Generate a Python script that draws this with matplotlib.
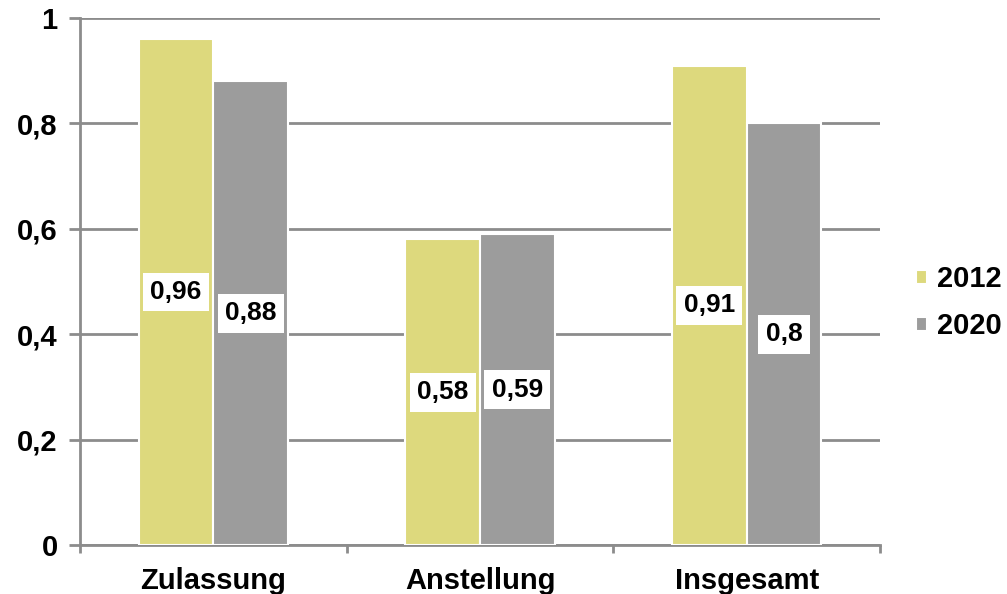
# Recreate grouped bar chart comparing 2012 and 2020.
import numpy as np
import matplotlib
matplotlib.use("Agg")
import matplotlib.pyplot as plt
from matplotlib.ticker import FixedLocator

plt.rcParams["font.family"] = ["Liberation Sans", "DejaVu Sans"]
plt.rcParams["font.weight"] = "bold"

# Data
categories = ["Zulassung", "Anstellung", "Insgesamt"]
series_names = ["2012", "2020"]
values_2012 = [0.96, 0.58, 0.91]
values_2020 = [0.88, 0.59, 0.8]
label_2012 = ["0,96", "0,58", "0,91"]
label_2020 = ["0,88", "0,59", "0,8"]
ytick_values = [0, 0.2, 0.4, 0.6, 0.8, 1.0]
ytick_labels = ["0", "0,2", "0,4", "0,6", "0,8", "1"]

color_2012 = "#DDD97D"
color_2020 = "#9C9C9C"
grid_color = "#8C8C8C"

fig = plt.figure(figsize=(10.07, 5.94), dpi=100)
ax = fig.add_axes([0.0794, 0.0825, 0.7946, 0.887])

x = np.arange(len(categories))
width = 0.28

bars_a = ax.bar(x - width / 2, values_2012, width, color=color_2012,
                edgecolor="white", linewidth=1.5, label=series_names[0], zorder=3)
bars_b = ax.bar(x + width / 2, values_2020, width, color=color_2020,
                edgecolor="white", linewidth=1.5, label=series_names[1], zorder=3)

# Value labels in white boxes at bar centers
for bars, labels in [(bars_a, label_2012), (bars_b, label_2020)]:
    for b, lab in zip(bars, labels):
        ax.text(b.get_x() + b.get_width() / 2, b.get_height() / 2, lab,
                ha="center", va="center", fontsize=19, fontweight="bold",
                color="black", zorder=4,
                bbox=dict(boxstyle="square,pad=0.28", facecolor="white", edgecolor="none"))

ax.set_xlim(-0.5, 2.5)
ax.set_ylim(0, 1)
ax.set_yticks(ytick_values)
ax.set_yticklabels(ytick_labels, fontsize=21, fontweight="bold")
ax.set_xticks(x)
ax.set_xticklabels(categories, fontsize=21, fontweight="bold")
ax.tick_params(axis="x", which="major", length=0, pad=16)
ax.xaxis.set_minor_locator(FixedLocator([-0.5, 0.5, 1.5, 2.5]))
ax.tick_params(axis="x", which="minor", length=6, width=2, color=grid_color)
ax.tick_params(axis="y", length=8, width=2, color=grid_color, pad=8)

ax.grid(axis="y", color=grid_color, linewidth=2, zorder=0)
ax.set_axisbelow(True)
for side in ["top", "right"]:
    ax.spines[side].set_visible(False)
for side in ["left", "bottom"]:
    ax.spines[side].set_color(grid_color)
    ax.spines[side].set_linewidth(2)

leg = fig.legend(loc="center left", bbox_to_anchor=(0.898, 0.49), frameon=False,
                 borderaxespad=0,
                 prop={"size": 21, "weight": "bold"}, handlelength=0.38,
                 handleheight=0.38, handletextpad=0.35, labelspacing=0.65)

fig.savefig("out.png", dpi=100)
